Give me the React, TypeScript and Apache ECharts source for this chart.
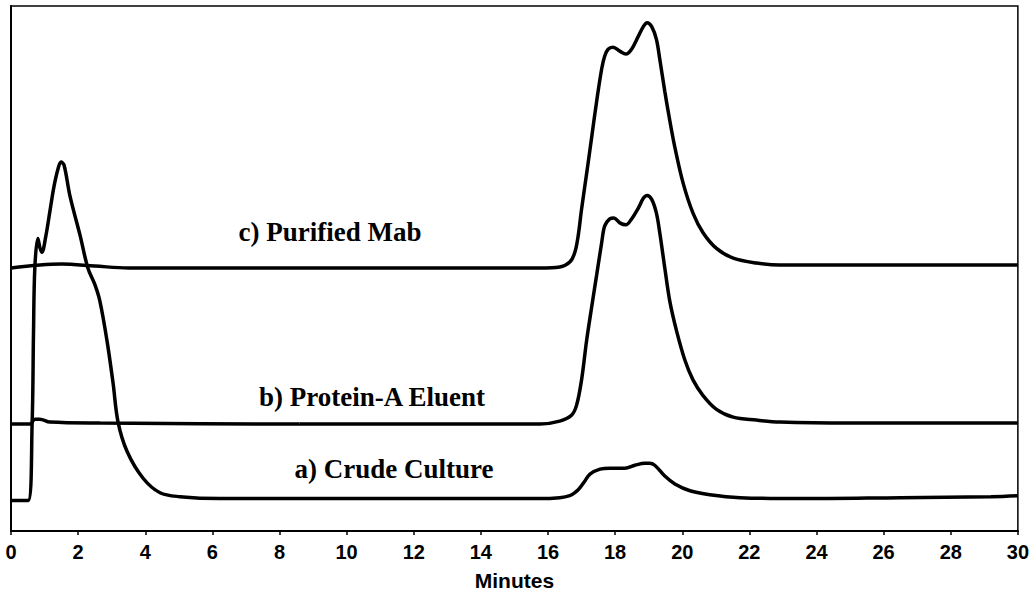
import { useEffect, useRef } from "react";
import * as echarts from "echarts";

// Retention time (minutes) and detector response (arbitrary units)
const crudeTime = [0, 0.51, 0.63, 0.67, 0.71, 0.8, 0.86, 0.92, 1.04, 1.16, 1.28, 1.4, 1.49, 1.58, 1.76, 2.06, 2.29, 2.5, 2.65, 2.86, 3.04, 3.19, 3.46, 3.93, 4.44, 5.03, 6.23, 8.6, 11.6, 15.76, 16.35, 16.65, 16.8, 16.95, 17.1, 17.25, 17.55, 17.84, 18.29, 18.59, 18.89, 19.03, 19.18, 19.48, 19.78, 20.23, 20.82, 21.72, 23.5, 26.5, 29.2, 30];
const crudeValue = [31, 31, 111, 201, 268, 298, 289, 284, 301, 326, 351, 369, 376, 373, 341, 301, 268, 251, 234, 194, 151, 111, 81, 54, 39, 35, 33, 33, 33, 33, 34, 36, 39, 44, 51, 58, 63, 64, 64, 67, 69, 69, 67, 56, 48, 41, 37, 34, 33, 34, 35, 36];

const eluentTime = [0, 0.57, 0.71, 0.86, 1.16, 2.65, 8.6, 15.76, 16.35, 16.7, 16.85, 17.0, 17.15, 17.3, 17.45, 17.6, 17.69, 17.84, 17.96, 18.14, 18.32, 18.49, 18.69, 18.84, 18.95, 19.09, 19.23, 19.33, 19.48, 19.63, 19.83, 20.08, 20.32, 20.62, 21.02, 21.52, 22.21, 22.91, 25, 30];
const eluentValue = [109, 109, 114, 114, 111, 110, 109, 109, 112, 118, 128, 154, 194, 228, 261, 294, 311, 318, 319, 314, 312, 318, 329, 339, 342, 338, 324, 304, 268, 234, 204, 174, 154, 138, 124, 116, 113, 111, 110, 110];

const purifiedTime = [0, 1.5, 2.5, 3.5, 15.76, 16.35, 16.65, 16.8, 16.9, 17.0, 17.15, 17.3, 17.45, 17.6, 17.69, 17.79, 17.94, 18.14, 18.32, 18.49, 18.69, 18.84, 18.95, 19.09, 19.23, 19.33, 19.48, 19.63, 19.78, 20.03, 20.32, 20.62, 21.02, 21.52, 22.21, 22.91, 25, 30];
const purifiedValue = [268, 272, 270, 268, 268, 269, 274, 284, 301, 328, 364, 401, 438, 471, 484, 491, 493, 489, 486, 491, 504, 514, 518, 514, 501, 481, 448, 418, 391, 354, 324, 304, 288, 278, 273, 271, 271, 271];

const seriesNames = ["a) Crude Culture", "b) Protein-A Eluent", "c) Purified Mab"];
const xAxisTitle = "Minutes";

const zip = (xs: number[], ys: number[]) => xs.map((x, i) => [x, ys[i]]);

const serifFont = "'Liberation Serif', 'Times New Roman', Times, serif";
const sansFont = "'Liberation Sans', Arial, Helvetica, sans-serif";

export default function App() {
  const ref = useRef<HTMLDivElement>(null);
  useEffect(() => {
    if (!ref.current) return;
    const chart = echarts.init(ref.current, null, { renderer: "svg" });
    const lineSeries = (name: string, data: number[][]) => ({
      name,
      type: "line",
      data,
      smooth: 0.35,
      symbol: "none",
      lineStyle: { color: "#000", width: 3.5 },
      z: 3,
    });
    chart.setOption({
      animation: false,
      backgroundColor: "#fff",
      grid: {
        left: 11,
        right: 14,
        top: 6,
        bottom: 55,
        show: true,
        borderColor: "#000",
        borderWidth: 1.5,
      },
      xAxis: {
        type: "value",
        min: 0,
        max: 30,
        interval: 2,
        name: xAxisTitle,
        nameLocation: "middle",
        nameGap: 39,
        nameTextStyle: {
          fontFamily: sansFont,
          fontWeight: "bold",
          fontSize: 21,
          color: "#000",
        },
        axisLine: { show: true, lineStyle: { color: "#000", width: 2 } },
        axisTick: { show: true, length: 4, lineStyle: { color: "#000", width: 1.5 } },
        axisLabel: {
          margin: 11,
          fontFamily: sansFont,
          fontWeight: "bold",
          fontSize: 20,
          color: "#000",
        },
        splitLine: { show: false },
      },
      yAxis: {
        type: "value",
        min: 0,
        max: 535,
        axisLine: { show: true, lineStyle: { color: "#000", width: 2 } },
        axisTick: { show: false },
        axisLabel: { show: false },
        splitLine: { show: false },
      },
      series: [
        lineSeries(seriesNames[0], zip(crudeTime, crudeValue)),
        lineSeries(seriesNames[1], zip(eluentTime, eluentValue)),
        lineSeries(seriesNames[2], zip(purifiedTime, purifiedValue)),
      ],
      graphic: [
        { text: seriesNames[2], x: 330, y: 232 },
        { text: seriesNames[1], x: 372, y: 397 },
        { text: seriesNames[0], x: 394, y: 469 },
      ].map((t) => ({
        type: "text",
        x: t.x,
        y: t.y,
        z: 10,
        style: {
          text: t.text,
          fill: "#000",
          font: `bold 27px ${serifFont}`,
          align: "center",
          verticalAlign: "middle",
        },
      })),
    });
    return () => chart.dispose();
  }, []);
  return (
    <div
      ref={ref}
      style={{ position: "absolute", left: 0, top: 0, width: 1032, height: 596 }}
    />
  );
}
